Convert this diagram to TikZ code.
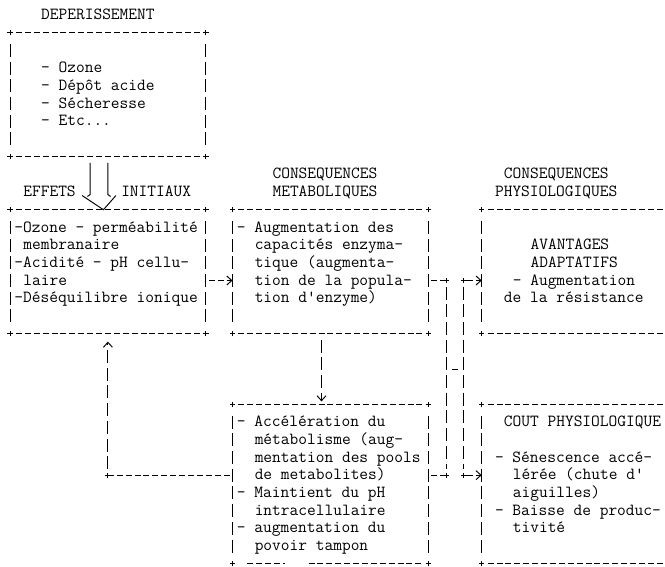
\documentclass[tikz,border=0pt]{standalone}
\usetikzlibrary{arrows.meta,fit}
\newcommand\tx[4]{\node[txt] (#1) at ({#2-0.5},{#3+0.26}) {#4};}
\newcommand\hside[2]{\draw[hl] ([xshift=5.9pt]#1) -- ([xshift=-5.9pt]#2);}
\newcommand\vside[2]{\draw[vl] ([yshift=-11.2pt]#1) -- ([yshift=11.2pt]#2);}
\newcommand\plus[1]{\draw[pl] ([xshift=-2.7pt]#1) -- ([xshift=2.7pt]#1) ([yshift=-2.7pt]#1) -- ([yshift=2.7pt]#1);}
\newcommand\fullbox[1]{\hside{#1.north west}{#1.north east}\hside{#1.south west}{#1.south east}%
  \vside{#1.north west}{#1.south west}\vside{#1.north east}{#1.south east}%
  \plus{#1.north west}\plus{#1.north east}\plus{#1.south west}\plus{#1.south east}}
\newcommand\openbox[1]{\hside{#1.north west}{#1.north east}\hside{#1.south west}{#1.south east}%
  \vside{#1.north west}{#1.south west}\plus{#1.north west}\plus{#1.south west}}
\begin{document}
\begin{tikzpicture}[x=8.9pt,y=-17.7pt,
  txt/.style={anchor=base west,inner sep=0pt,outer sep=0pt,font=\fontsize{16.95}{18}\selectfont\ttfamily},
  hl/.style={line width=0.95pt,dash pattern=on 6pt off 2.9pt},
  vl/.style={line width=0.95pt,dash pattern=on 13pt off 4.7pt},
  pl/.style={line width=0.9pt},
  box/.style={draw=none,inner sep=0pt,outer sep=0pt},
  tip/.style={-{Straight Barb[length=5pt,width=9pt,line width=0.95pt]}},
  ]
\useasboundingbox ({-10/8.9},{-15/17.7}) rectangle ({655/8.9},{552/17.7});
\fill[white] ({-10/8.9},{-15/17.7}) rectangle ({655/8.9},{552/17.7});
% boxes
\node[box,fit={(0,1) (22,8)}] (b1) {};
\node[box,fit={(0,11) (22,18)}] (b2) {};
\node[box,fit={(25,11) (47,18)}] (b3) {};
\node[box,fit={(25,22) (47,31)}] (b4) {};
\node[box,fit={(53,11) (76,18)}] (b5) {};
\node[box,fit={(53,22) (76,31)}] (b6) {};
\fullbox{b1}
\fullbox{b2}
\fullbox{b3}
\hside{b4.north west}{b4.north east}
\vside{b4.north west}{b4.south west}\vside{b4.north east}{b4.south east}
\plus{b4.north west}\plus{b4.north east}\plus{b4.south west}\plus{b4.south east}
\draw[hl] ([xshift=14.8pt]b4.south west) -- ([xshift=52pt]b4.south west);
\draw[hl] ([xshift=76pt]b4.south west) -- ([xshift=-5.9pt]b4.south east);
\openbox{b5}
\openbox{b6}
% texts
\tx{title}{4}{0}{DEPERISSEMENT}
\tx{d1}{4}{3}{- Ozone}
\tx{d2}{4}{4}{- Dépôt acide}
\tx{d3}{4}{5}{- Sécheresse}
\tx{d4}{4}{6}{- Etc...}
\tx{eff}{2}{10}{EFFETS}
\tx{ini}{13}{10}{INITIAUX}
\tx{cm1}{30}{9}{CONSEQUENCES}
\tx{cm2}{30}{10}{METABOLIQUES}
\tx{cp1}{56}{9}{CONSEQUENCES}
\tx{cp2}{55}{10}{PHYSIOLOGIQUES}
\tx{e1}{1}{12}{-Ozone - perméabilité}
\tx{e2}{2}{13}{membranaire}
\tx{e3}{1}{14}{-Acidité - pH cellu-}
\tx{e4}{2}{15}{laire}
\tx{e5}{1}{16}{-Déséquilibre ionique}
\tx{m1}{26}{12}{- Augmentation des}
\tx{m2}{28}{13}{capacités enzyma-}
\tx{m3}{28}{14}{tique (augmenta-}
\tx{m4}{28}{15}{tion de la popula-}
\tx{m5}{28}{16}{tion d'enzyme)}
\tx{a1}{26}{23}{- Accélération du}
\tx{a2}{28}{24}{métabolisme (aug-}
\tx{a3}{28}{25}{mentation des pools}
\tx{a4}{28}{26}{de metabolites)}
\tx{a5}{26}{27}{- Maintient du pH}
\tx{a6}{28}{28}{intracellulaire}
\tx{a7}{26}{29}{- augmentation du}
\tx{a8}{28}{30}{povoir tampon}
\tx{v1}{59}{13}{AVANTAGES}
\tx{v2}{59}{14}{ADAPTATIFS}
\tx{v3}{57}{15}{- Augmentation}
\tx{v4}{56}{16}{de la résistance}
\tx{c1}{56}{23}{COUT PHYSIOLOGIQUE}
\tx{c2}{55}{25}{- Sénescence accé-}
\tx{c3}{57}{26}{lérée (chute d'}
\tx{c4}{57}{27}{aiguilles)}
\tx{c5}{55}{28}{- Baisse de produc-}
\tx{c6}{57}{29}{tivité}
% connector b1 -> b2 (double line)
\coordinate (dl) at (9,8.35);
\coordinate (dr) at (11,8.35);
\draw[line width=0.95pt] (dl) -- (9,10.15) -- (8.7,10.25);
\draw[line width=0.95pt] (dr) -- (11,10.15) -- (11.3,10.25);
\coordinate (vt) at (10.5,11);
\draw[line width=0.95pt] (8.1,10.2) -- (vt) -- (11.9,10.2);
% b2 -> b3
\draw[hl,tip] ([xshift=3pt]b2.east |- 0,15) -- (b3.west |- 0,15);
% b3 -> b4
\draw[vl,tip,shorten >=3pt] ([yshift=-6pt]b3.south -| 35,0) -- (b4.north -| 35,0);
% b4 -> b2 feedback
\coordinate (fb) at (11,26);
\draw[hl] ([xshift=-3pt]b4.west |- fb) -- (fb);
\draw[vl,tip] ([yshift=6pt]fb) -- ([yshift=-8pt]b2.south -| fb);
\plus{fb}
% b3/b4 -> b5/b6
\coordinate (p1) at (49,15);
\coordinate (p2) at (51,15);
\coordinate (p3) at (49,26);
\coordinate (p4) at (51,26);
\draw[hl] ([xshift=3pt]b3.east |- p1) -- ([xshift=-3pt]p1);
\draw[hl] ([xshift=3pt]b4.east |- p3) -- ([xshift=-3pt]p3);
\draw[vl] ([yshift=-6pt]p1) -- ([yshift=6pt]p3);
\draw[vl] ([yshift=-6pt]p2) -- ([yshift=6pt]p4);
\draw[line width=0.95pt] (49.65,20) -- (50.35,20);
\draw[hl,tip] ([xshift=3pt]p2) -- (b5.west |- p2);
\draw[hl,tip] ([xshift=3pt]p4) -- (b6.west |- p4);
\plus{p1}\plus{p2}\plus{p3}\plus{p4}
\end{tikzpicture}
\end{document}
